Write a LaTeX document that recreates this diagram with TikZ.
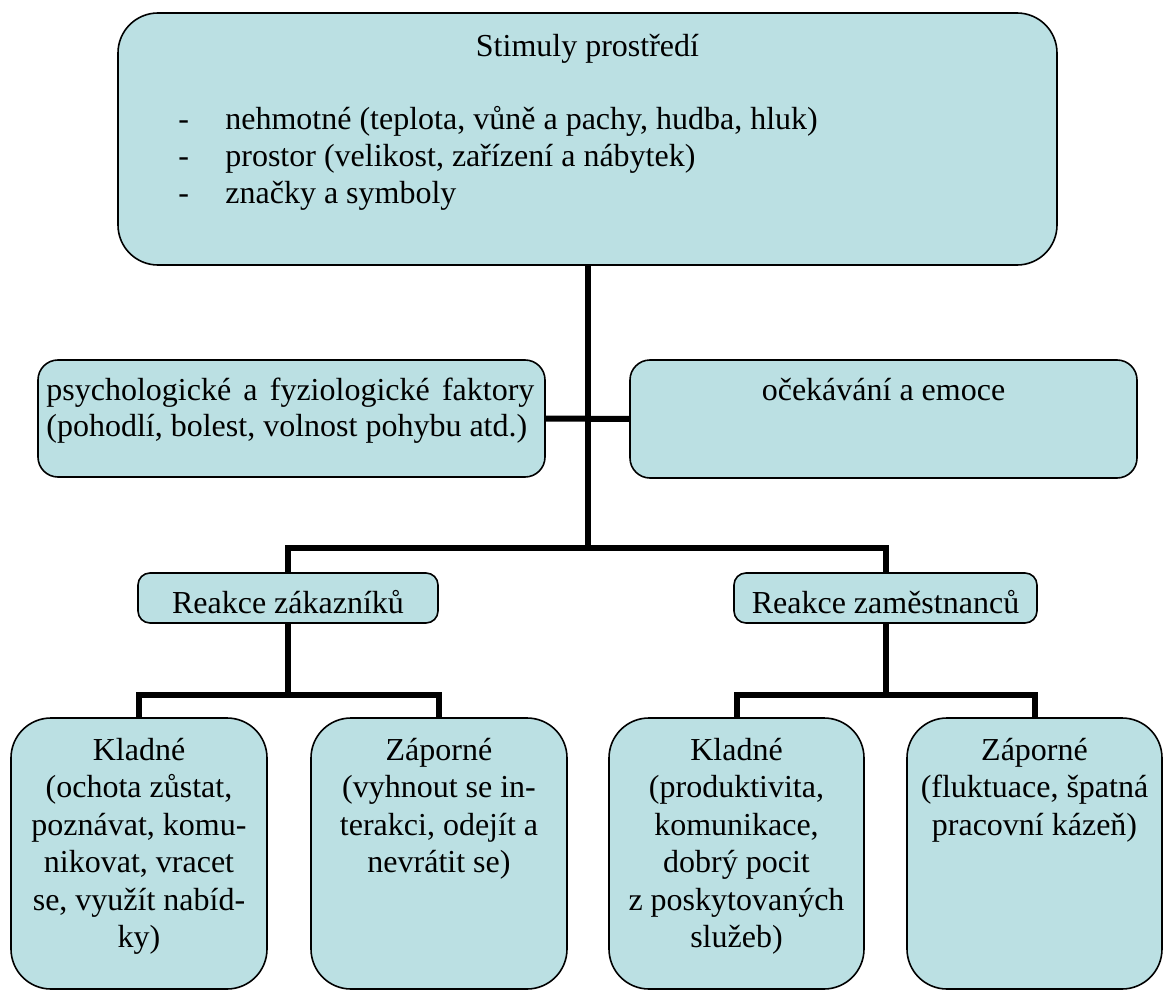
\documentclass[tikz,border=0pt]{standalone}
\usepackage{fontspec}
\setmainfont{Liberation Serif}
\usetikzlibrary{fit}
\definecolor{boxfill}{RGB}{187,224,227}
% stacked lines whose baseline is the first line
\newcommand{\mlines}[2][c]{\begin{tabular}[t]{@{}#1@{}}#2\end{tabular}}

\begin{document}
\begin{tikzpicture}[x=0.5pt,y=-0.5pt,
  panel/.style={draw=black, line width=0.8pt, fill=boxfill, inner sep=0pt, rounded corners=#1},
  panel/.default=20pt,
  words/.style={inner sep=0pt, anchor=base, font=\fontsize{16}{18.75}\selectfont},
  conn/.style={draw=black, line width=3pt},
]
\useasboundingbox (0,0) rectangle (1163,990);
\clip (0,0) rectangle (1163,990);

% boxes
\node[panel=20pt, fit={(118,13) (1057,265)}] (top) {};
\node[panel=10pt, fit={(38,360) (545,477)}] (psy) {};
\node[panel=10pt, fit={(630,360) (1137,478)}] (emo) {};
\node[panel=6pt, fit={(138,573) (438,623)}] (rz) {};
\node[panel=6pt, fit={(734,573) (1037,623)}] (rm) {};
\node[panel=20pt, fit={(11,718) (267,989)}] (k1) {};
\node[panel=20pt, fit={(311,718) (567,989)}] (z1) {};
\node[panel=20pt, fit={(609,718) (864,989)}] (k2) {};
\node[panel=20pt, fit={(907,718) (1162,989)}] (z2) {};

% connectors
\coordinate (hub) at (587.5,548);
\coordinate (hubL) at (288.5,695);
\coordinate (hubR) at (885.5,695);
\draw[conn] (top.south) -- (hub);
\draw[conn] (psy.east) -- (emo.west);
\draw[conn] (rz.north) |- (hub) -| (rm.north);
\draw[conn] (rz.south) -- (rz.south |- hubL);
\draw[conn] (rm.south) -- (rm.south |- hubR);
\draw[conn] (k1.north) |- (hubL) -| (z1.north);
\draw[conn] (k2.north) |- (hubR) -| (z2.north);

% texts
\node[words] (ttl) at (587.5,57) {Stimuly prostředí};
\node[words, anchor=base west] (lst) at (178,130) {\fontsize{16}{18.3}\selectfont
  \mlines[p{23.5pt}@{}l]{-&nehmotné (teplota, vůně a pachy, hudba, hluk)\\
  -&prostor (velikost, zařízení a nábytek)\\
  -&značky a symboly}};
\node[words, anchor=base west] (psyt) at (46,400) {\fontsize{16}{18}\selectfont
  \mlines[l]{\makebox[244pt][s]{psychologické a fyziologické faktory}\\
  (pohodlí, bolest, volnost pohybu atd.)}};
\node[words] (emot) at (883.5,400) {očekávání a emoce};
\node[words] (rzt) at (288,613) {Reakce zákazníků};
\node[words] (rmt) at (885.5,613) {Reakce zaměstnanců};
\node[words] (k1t) at (139,760) {\mlines{Kladné\\(ochota zůstat,\\poznávat, komu-\\nikovat, vracet\\se, využít nabíd-\\ky)}};
\node[words] (z1t) at (439,760) {\mlines{Záporné\\(vyhnout se in-\\terakci, odejít a\\nevrátit se)}};
\node[words] (k2t) at (736.5,760) {\mlines{Kladné\\(produktivita,\\komunikace,\\dobrý pocit\\z poskytovaných\\služeb)}};
\node[words] (z2t) at (1034.5,760) {\mlines{Záporné\\(fluktuace, špatná\\pracovní kázeň)}};
\end{tikzpicture}
\end{document}
